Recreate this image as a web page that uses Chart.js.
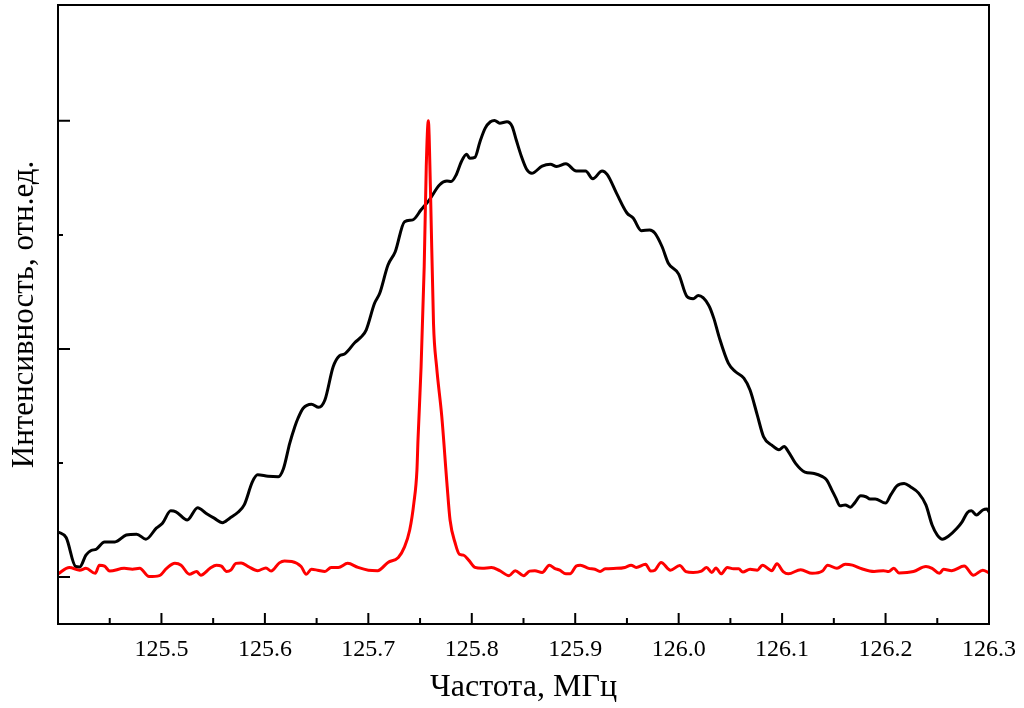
<!DOCTYPE html>
<html>
<head>
<meta charset="utf-8">
<script src="https://cdn.jsdelivr.net/npm/chart.js@4/dist/chart.umd.min.js"></script>
<style>
  html, body { margin: 0; padding: 0; background: #fff; }
  canvas { display: block; }
</style>
</head>
<body>
<canvas id="spectrum" width="1024" height="708"></canvas>
<script>
// black: wide line, red: narrow line (relative units, red peak = 1)
var freqBlack = [125.400,125.408,125.417,125.421,125.427,125.432,125.437,125.445,125.455,125.466,
  125.476,125.485,125.495,125.501,125.509,125.514,125.525,125.535,125.543,125.551,
  125.559,125.566,125.574,125.580,125.588,125.593,125.603,125.613,125.618,125.624,
  125.629,125.632,125.637,125.645,125.652,125.658,125.666,125.672,125.677,125.687,
  125.693,125.698,125.706,125.711,125.719,125.726,125.735,125.743,125.751,125.759,
  125.769,125.776,125.780,125.785,125.790,125.795,125.798,125.803,125.808,125.813,
  125.818,125.822,125.827,125.834,125.839,125.843,125.848,125.853,125.858,125.868,
  125.876,125.882,125.891,125.901,125.910,125.917,125.926,125.931,125.940,125.950,
  125.956,125.964,125.972,125.977,125.984,125.990,126.000,126.008,126.014,126.019,
  126.029,126.034,126.039,126.048,126.055,126.063,126.069,126.076,126.082,126.090,
  126.097,126.102,126.106,126.113,126.122,126.131,126.139,126.143,126.148,126.152,
  126.156,126.161,126.166,126.170,126.176,126.181,126.185,126.190,126.200,126.205,
  126.211,126.218,126.224,126.232,126.239,126.245,126.250,126.255,126.261,126.269,
  126.274,126.279,126.283,126.288,126.294,126.298,126.300];
var intBlack = [0.099,0.086,0.023,0.022,0.048,0.058,0.061,0.077,0.077,0.092,
  0.094,0.083,0.107,0.118,0.145,0.143,0.125,0.152,0.140,0.129,
  0.119,0.129,0.142,0.158,0.209,0.224,0.221,0.220,0.238,0.293,
  0.330,0.348,0.370,0.379,0.372,0.388,0.461,0.485,0.489,0.514,
  0.526,0.542,0.600,0.622,0.684,0.713,0.779,0.783,0.805,0.827,
  0.860,0.868,0.867,0.882,0.911,0.927,0.918,0.920,0.955,0.984,
  0.998,1.001,0.995,0.998,0.988,0.958,0.922,0.894,0.885,0.901,
  0.905,0.900,0.906,0.890,0.890,0.873,0.890,0.882,0.841,0.798,
  0.787,0.759,0.761,0.754,0.724,0.688,0.664,0.615,0.610,0.617,
  0.596,0.567,0.527,0.469,0.450,0.436,0.410,0.355,0.308,0.289,
  0.279,0.286,0.275,0.249,0.230,0.227,0.220,0.213,0.191,0.173,
  0.156,0.158,0.153,0.162,0.178,0.176,0.171,0.171,0.162,0.180,
  0.200,0.205,0.198,0.184,0.158,0.114,0.092,0.083,0.090,0.107,
  0.121,0.141,0.145,0.136,0.147,0.149,0.143];

var freqRed = [125.400,125.411,125.421,125.427,125.436,125.440,125.445,125.450,125.464,125.472,
  125.479,125.488,125.498,125.505,125.513,125.519,125.527,125.534,125.538,125.547,
  125.553,125.558,125.563,125.567,125.572,125.577,125.584,125.593,125.601,125.606,
  125.614,125.619,125.626,125.635,125.640,125.645,125.651,125.658,125.664,125.671,
  125.680,125.690,125.700,125.709,125.719,125.729,125.735,125.740,125.744,125.747,
  125.748,125.751,125.754,125.756,125.758,125.760,125.763,125.766,125.771,125.776,
  125.779,125.784,125.788,125.792,125.797,125.803,125.810,125.819,125.827,125.836,
  125.842,125.850,125.856,125.861,125.868,125.875,125.880,125.885,125.891,125.895,
  125.901,125.905,125.913,125.919,125.924,125.929,125.940,125.948,125.954,125.959,
  125.968,125.973,125.977,125.983,125.992,126.001,126.007,126.014,126.022,126.027,
  126.032,126.036,126.041,126.047,126.053,126.058,126.062,126.069,126.076,126.081,
  126.090,126.095,126.101,126.106,126.118,126.129,126.139,126.144,126.153,126.161,
  126.168,126.177,126.189,126.198,126.203,126.208,126.213,126.227,126.239,126.245,
  126.252,126.256,126.264,126.276,126.285,126.294,126.300];
var intRed = [0.007,0.021,0.015,0.019,0.008,0.026,0.024,0.013,0.019,0.017,
  0.019,0.001,0.003,0.019,0.030,0.026,0.006,0.012,0.004,0.019,
  0.026,0.024,0.012,0.015,0.030,0.031,0.023,0.014,0.020,0.013,
  0.031,0.035,0.034,0.023,0.006,0.017,0.015,0.012,0.021,0.021,
  0.030,0.021,0.015,0.014,0.032,0.043,0.066,0.103,0.162,0.235,
  0.300,0.461,0.680,0.900,1.000,0.856,0.556,0.461,0.352,0.205,
  0.125,0.074,0.050,0.048,0.037,0.021,0.019,0.021,0.014,0.003,
  0.014,0.003,0.013,0.014,0.010,0.026,0.019,0.015,0.007,0.007,
  0.024,0.026,0.019,0.017,0.012,0.018,0.019,0.021,0.026,0.021,
  0.028,0.013,0.015,0.032,0.015,0.025,0.012,0.010,0.013,0.021,
  0.010,0.020,0.007,0.021,0.018,0.018,0.011,0.017,0.015,0.026,
  0.014,0.029,0.012,0.007,0.016,0.008,0.013,0.026,0.019,0.028,
  0.026,0.018,0.012,0.014,0.012,0.019,0.009,0.012,0.023,0.019,
  0.008,0.017,0.014,0.024,0.004,0.015,0.009];

var xMin = 125.4, xMax = 126.3;
var yMin = -0.103, yMax = 1.254;
var yMajor = [0, 0.5, 1.0];
var yMinor = [0.25, 0.75];

function toPoints(xs, ys) {
  return xs.map(function(v, i) { return {x: v, y: ys[i]}; });
}

var serif = "'Liberation Serif', 'Times New Roman', serif";

// frame round the plot and inward tick marks
var frameTicks = {
  id: 'frameTicks',
  afterDatasetsDraw: function(chart) {
    var ctx = chart.ctx, a = chart.chartArea;
    var xs = chart.scales.x, ys = chart.scales.y;
    ctx.save();
    ctx.strokeStyle = '#000';
    ctx.lineWidth = 2;
    ctx.beginPath();
    var vals = xs.ticks.map(function(t) { return t.value; });
    vals.forEach(function(v, i) {
      var px = xs.getPixelForValue(v);
      ctx.moveTo(px, a.bottom); ctx.lineTo(px, a.bottom - 11);
      if (i < vals.length - 1) {
        var mx = xs.getPixelForValue((v + vals[i + 1]) / 2);
        ctx.moveTo(mx, a.bottom); ctx.lineTo(mx, a.bottom - 6);
      }
    });
    yMajor.forEach(function(v) {
      var py = ys.getPixelForValue(v);
      ctx.moveTo(a.left, py); ctx.lineTo(a.left + 12, py);
    });
    yMinor.forEach(function(v) {
      var py = ys.getPixelForValue(v);
      ctx.moveTo(a.left, py); ctx.lineTo(a.left + 5, py);
    });
    ctx.stroke();
    ctx.strokeRect(a.left, a.top, a.right - a.left, a.bottom - a.top);
    ctx.restore();
  }
};

var ctx = document.getElementById('spectrum').getContext('2d');
var chart = new Chart(ctx, {
    type: 'line',
    data: {
        datasets: [{
            label: 'black',
            data: toPoints(freqBlack, intBlack),
            borderColor: '#000000',
            borderWidth: 3,
            pointRadius: 0,
            cubicInterpolationMode: 'monotone',
            order: 1
        }, {
            label: 'red',
            data: toPoints(freqRed, intRed),
            borderColor: '#ff0000',
            borderWidth: 3,
            pointRadius: 0,
            cubicInterpolationMode: 'monotone',
            order: 0
        }]
    },
    options: {
        responsive: false,
        animation: false,
        devicePixelRatio: 1,
        layout: { padding: { left: 0, top: 5, right: 35, bottom: 0 } },
        plugins: { legend: { display: false }, tooltip: { enabled: false } },
        scales: {
            x: {
                type: 'linear',
                min: xMin,
                max: xMax,
                afterFit: function(s) { s.height = 84; s.paddingLeft = 0; s.paddingRight = 0; },
                border: { display: false },
                grid: { display: false, drawTicks: false },
                ticks: {
                    stepSize: 0.1,
                    padding: 11,
                    color: '#000',
                    font: { family: serif, size: 24 },
                    maxRotation: 0,
                    callback: function(v) { return Math.abs(v - xMin) < 1e-6 ? '' : v.toFixed(1); }
                },
                title: {
                    display: true,
                    text: 'Частота, МГц',
                    color: '#000',
                    font: { family: serif, size: 32 },
                    padding: { top: 0, bottom: 1 }
                }
            },
            y: {
                min: yMin,
                max: yMax,
                afterFit: function(s) { s.width = 58; },
                border: { display: false },
                grid: { display: false, drawTicks: false },
                ticks: { display: false },
                title: {
                    display: true,
                    text: 'Интенсивность, отн.ед.',
                    color: '#000',
                    font: { family: serif, size: 31 },
                    padding: { top: 6, bottom: 0 }
                }
            }
        }
    },
    plugins: [frameTicks]
});
</script>
</body>
</html>
